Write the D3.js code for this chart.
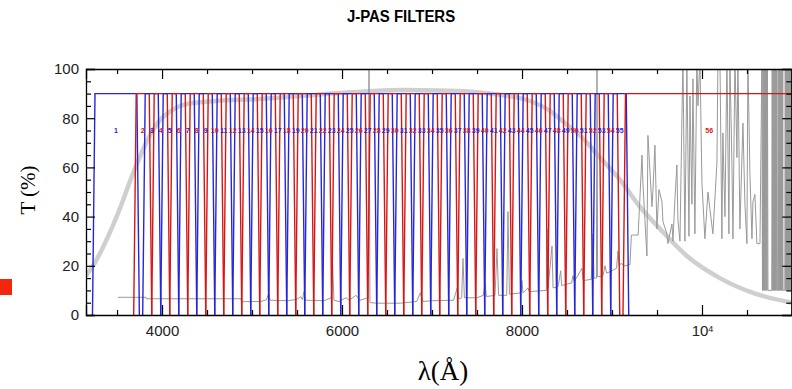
<!DOCTYPE html>
<html>
<head>
<meta charset="utf-8">
<script src="https://cdn.jsdelivr.net/npm/d3@7"></script>
<style>
  body { margin: 0; background: #fff; }
  svg { display: block; }
</style>
</head>
<body>
<div id="chart"></div>
<script>
// ---------------------------------------------------------------
// J-PAS filter set over a sky spectrum and system throughput
// ---------------------------------------------------------------

// filter edges in Angstrom (1 = broad blue, 2..55 narrow, 56 = red long pass)
const filterLo = [3255,
  3713, 3813, 3913, 4013, 4113, 4213, 4313, 4413, 4513, 4613,
  4713, 4813, 4913, 5013, 5113, 5213, 5313, 5413, 5513, 5613,
  5713, 5813, 5913, 6013, 6113, 6213, 6313, 6413, 6513, 6613,
  6713, 6813, 6913, 7013, 7113, 7213, 7313, 7413, 7513, 7613,
  7713, 7813, 7913, 8013, 8113, 8213, 8313, 8413, 8513, 8613,
  8713, 8813, 8913, 9013,
  9150];
const filterHi = [3720,
  3858, 3958, 4058, 4158, 4258, 4358, 4458, 4558, 4658, 4758,
  4858, 4958, 5058, 5158, 5258, 5358, 5458, 5558, 5658, 5758,
  5858, 5958, 6058, 6158, 6258, 6358, 6458, 6558, 6658, 6758,
  6858, 6958, 7058, 7158, 7258, 7358, 7458, 7558, 7658, 7758,
  7858, 7958, 8058, 8158, 8258, 8358, 8458, 8558, 8658, 8758,
  8858, 8958, 9058, 9158,
  11600];
const filterTop = 90;      // transmission of the boxes (%)
const labelLevel = 75;     // where the filter numbers sit (%)
const lastLabelWave = 10080;

// system throughput (thick grey curve): [lambda, T%]
const throughput = [
  [3155, 16], [3250, 21], [3350, 28], [3450, 36], [3550, 45], [3650, 55],
  [3750, 64], [3850, 72], [3950, 78], [4100, 83], [4300, 86], [4600, 87],
  [5088, 87.8], [5533, 89], [6088, 90.5], [6644, 91.5], [7199, 91.2],
  [7755, 89.5], [8088, 87], [8310, 83], [8477, 78], [8644, 73], [8866, 64],
  [9088, 55], [9310, 44], [9533, 35], [9832, 24], [10199, 15], [10566, 9],
  [11000, 5]
];

// sky spectrum (thin grey line): [lambda, T%]
const skySpectrum = [
  [3510, 7.2], [3822, 7.2], [3826, 6.6], [4878, 6.6], [4882, 5.4], [5100, 5.5],
  [5160, 6.2], [5185, 8.8], [5200, 6.0], [5400, 5.8], [5500, 6.4], [5540, 7.5],
  [5560, 6.2], [5577, 9.5], [5595, 6.0], [5800, 5.8], [5880, 7], [5895, 21],
  [5910, 6], [5966, 5.5], [6044, 7], [6080, 6], [6155, 8], [6200, 6], [6290, 7],
  [6300, 110], [6310, 5], [6400, 4.8], [6650, 4.8], [6830, 5.5], [6870, 9],
  [6900, 5.5], [7000, 5.8], [7240, 6], [7280, 11], [7300, 6.5], [7330, 7],
  [7344, 23], [7360, 7], [7500, 7], [7570, 8], [7588, 13], [7605, 7.5], [7700, 8],
  [7722, 27], [7740, 8], [7830, 8], [7844, 42], [7860, 8.5], [7990, 9], [8000, 14],
  [8010, 9], [8066, 11], [8080, 9.5], [8270, 10], [8277, 35], [8290, 11],
  [8333, 28], [8345, 11], [8400, 11.5], [8430, 18], [8440, 12], [8550, 13],
  [8566, 16], [8580, 13.5], [8666, 19], [8680, 14], [8770, 14.5], [8788, 33],
  [8800, 15], [8827, 15], [8833, 110], [8840, 15.5], [8900, 16], [8922, 20],
  [8940, 17], [9000, 18], [9050, 19], [9066, 26], [9080, 20], [9100, 21],
  [9140, 20], [9200, 20.5], [9215, 32.5], [9290, 32.5], [9333, 65], [9344, 53],
  [9388, 24], [9399, 73], [9444, 44], [9455, 51], [9477, 69], [9499, 35],
  [9522, 51], [9555, 46], [9566, 38], [9610, 33], [9621, 29], [9666, 37],
  [9677, 30], [9699, 47], [9721, 61], [9732, 39], [9755, 30], [9788, 105],
  [9810, 30], [9832, 102], [9855, 32], [9866, 89], [9888, 45], [9899, 96],
  [9921, 33], [9943, 105], [9955, 85], [9977, 104], [9999, 54], [10032, 31],
  [10066, 50], [10088, 43], [10121, 33], [10166, 62], [10177, 105], [10199, 105],
  [10221, 31], [10232, 74], [10255, 40], [10277, 105], [10299, 33], [10310, 104],
  [10333, 60], [10344, 31], [10366, 105], [10388, 64], [10399, 105], [10421, 35],
  [10455, 78], [10477, 45], [10499, 29], [10510, 104], [10532, 58], [10555, 31],
  [10566, 46], [10588, 49], [10610, 29], [10644, 29], [10666, 105], [10672, 10],
  [10677, 105], [10682, 10], [10687, 105], [10692, 10], [10697, 105], [10702, 10],
  [10707, 105], [10712, 10], [10717, 105], [10722, 10], [10727, 105], [10733, 10],
  [10775, 10], [10780, 105], [10785, 10], [10790, 105], [10795, 10], [10800, 105],
  [10805, 10], [10810, 105], [10815, 10], [10820, 105], [10825, 10], [10830, 105],
  [10835, 10], [10842, 10], [10847, 105], [10852, 10], [10857, 105], [10862, 10],
  [10867, 105], [10872, 10], [10877, 105], [10882, 10], [10887, 105], [10892, 10],
  [10897, 105], [10900, 10], [10920, 10], [10925, 105], [10930, 10], [10935, 105],
  [10940, 10], [10945, 105], [10950, 10], [10955, 105], [10960, 10], [10965, 105],
  [10970, 10], [10975, 105], [10980, 10], [10985, 105], [10990, 10], [10995, 105],
  [11000, 10]
];

// axes
const xMajorTicks = [4000, 6000, 8000, 10000];
const xMajorLabels = ["4000", "6000", "8000", "10^4"];
const xMinorTicks = [3500, 4500, 5000, 5500, 6500, 7000, 7500, 8500, 9000, 9500, 10500];
const yMajorTicks = [0, 20, 40, 60, 80, 100];
const yMinorTicks = [5, 10, 15, 25, 30, 35, 45, 50, 55, 65, 70, 75, 85, 90, 95];

const width = 792, height = 389;
const plot = { left: 86, right: 792, top: 69, bottom: 315 };

const svg = d3.select('#chart').append('svg')
  .attr('width', width)
  .attr('height', height)
  .style('font-family', '"Liberation Sans", Arial, sans-serif');

const x = d3.scaleLinear().domain([3155, 11000]).range([plot.left, plot.right]);
const y = d3.scaleLinear().domain([0, 100]).range([plot.bottom, plot.top]);

svg.append('defs').append('clipPath').attr('id', 'plotClip')
  .append('rect')
  .attr('x', plot.left).attr('y', plot.top)
  .attr('width', plot.right - plot.left).attr('height', plot.bottom - plot.top);

const g = svg.append('g').attr('clip-path', 'url(#plotClip)');

// thick throughput curve
g.append('path')
  .datum(throughput)
  .attr('fill', 'none')
  .attr('stroke', '#cfcfcf')
  .attr('stroke-width', 4.5)
  .attr('stroke-linejoin', 'round')
  .attr('d', d3.line().curve(d3.curveMonotoneX).x(d => x(d[0])).y(d => y(d[1])));

// sky spectrum
g.append('path')
  .datum(skySpectrum)
  .attr('fill', 'none')
  .attr('stroke', '#999')
  .attr('stroke-width', 1)
  .attr('d', d3.line().x(d => x(d[0])).y(d => y(d[1])));

// filter boxes, slightly wider at the base
const flare = 28;
const filterColor = i => (i % 2 === 0 ? '#2626d8' : '#d41616');
const filters = filterLo.map((lo, i) => ({ lo, hi: filterHi[i], id: i + 1 }));

g.selectAll('.filter')
  .data(filters)
  .enter().append('path')
  .attr('class', 'filter')
  .attr('fill', 'none')
  .attr('stroke', (d, i) => filterColor(i))
  .attr('stroke-width', 1.4)
  .attr('d', d => d3.line()([
    [x(d.lo - flare), y(0)], [x(d.lo), y(filterTop)],
    [x(d.hi), y(filterTop)], [x(d.hi + flare), y(0)]
  ]));

// filter numbers
g.selectAll('.flabel')
  .data(filters)
  .enter().append('text')
  .attr('class', 'flabel')
  .attr('x', d => d.id === 56 ? x(lastLabelWave) : x((d.lo + d.hi) / 2))
  .attr('y', y(labelLevel) + 2.5)
  .attr('text-anchor', 'middle')
  .attr('fill', (d, i) => filterColor(i))
  .style('font-size', '7px')
  .style('font-weight', 'bold')
  .text(d => d.id);

// axes ----------------------------------------------------------
const axisStyle = sel => {
  sel.selectAll('path.domain').attr('stroke', '#000').attr('stroke-width', 1.3);
  sel.selectAll('.tick line').attr('stroke', '#000').attr('stroke-width', 1.2);
  sel.selectAll('.tick text').style('font-size', '15px').attr('fill', '#222')
    .style('font-family', '"Liberation Sans", Arial, sans-serif');
};

const bottomMajor = svg.append('g')
  .attr('transform', `translate(0,${plot.bottom})`)
  .call(d3.axisBottom(x).tickValues(xMajorTicks).tickSize(-10).tickPadding(10)
    .tickFormat((d, i) => xMajorLabels[i]))
  .call(axisStyle);
bottomMajor.selectAll('.tick text').each(function (d, i) {
  if (xMajorLabels[i] === '10^4') {
    const t = d3.select(this).text('10');
    t.append('tspan').attr('dy', '-0.45em').style('font-size', '9px').text('4');
  }
});
svg.append('g')
  .attr('transform', `translate(0,${plot.bottom})`)
  .call(d3.axisBottom(x).tickValues(xMinorTicks).tickSize(-5).tickFormat(''))
  .call(axisStyle).select('path.domain').remove();

svg.append('g')
  .attr('transform', `translate(0,${plot.top})`)
  .call(d3.axisTop(x).tickValues(xMajorTicks).tickSize(-10).tickFormat(''))
  .call(axisStyle);
svg.append('g')
  .attr('transform', `translate(0,${plot.top})`)
  .call(d3.axisTop(x).tickValues(xMinorTicks).tickSize(-5).tickFormat(''))
  .call(axisStyle).select('path.domain').remove();

svg.append('g')
  .attr('transform', `translate(${plot.left},0)`)
  .call(d3.axisLeft(y).tickValues(yMajorTicks).tickSize(-9).tickPadding(7))
  .call(axisStyle);
svg.append('g')
  .attr('transform', `translate(${plot.left},0)`)
  .call(d3.axisLeft(y).tickValues(yMinorTicks).tickSize(-5).tickFormat(''))
  .call(axisStyle).select('path.domain').remove();

svg.append('g')
  .attr('transform', `translate(${plot.right - 0.7},0)`)
  .call(d3.axisRight(y).tickValues(yMajorTicks).tickSize(-9).tickFormat(''))
  .call(axisStyle);
svg.append('g')
  .attr('transform', `translate(${plot.right - 0.7},0)`)
  .call(d3.axisRight(y).tickValues(yMinorTicks).tickSize(-5).tickFormat(''))
  .call(axisStyle).select('path.domain').remove();

// titles ---------------------------------------------------------
svg.append('text')
  .attr('transform', 'translate(401,22) scale(0.88,1)')
  .attr('text-anchor', 'middle')
  .style('font-size', '17px')
  .style('font-weight', 'bold')
  .text('J-PAS FILTERS');

svg.append('text')
  .attr('transform', 'translate(35,190) rotate(-90)')
  .attr('text-anchor', 'middle')
  .style('font-family', '"Liberation Serif", "Times New Roman", serif')
  .style('font-size', '21px')
  .text('T (%)');

svg.append('text')
  .attr('x', 443).attr('y', 380)
  .attr('text-anchor', 'middle')
  .style('font-family', '"Liberation Serif", "Times New Roman", serif')
  .style('font-size', '27px')
  .text('λ(Å)');

// red marker at the left margin
svg.append('rect')
  .attr('x', 0).attr('y', 279)
  .attr('width', 12).attr('height', 16)
  .attr('fill', '#f2260c');
</script>
</body>
</html>
